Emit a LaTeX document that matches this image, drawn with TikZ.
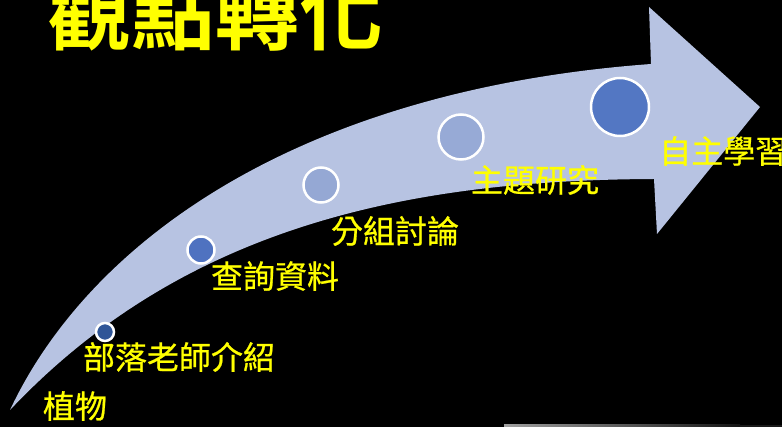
\documentclass[tikz,border=0pt]{standalone}
\usepackage{fontspec}
\newfontfamily\cjk[FakeBold=0.7]{Noto Sans CJK TC}
\newfontfamily\cjkbold{Noto Sans CJK TC Bold}
\definecolor{arrowfill}{HTML}{B7C3E2}
\definecolor{labelyellow}{HTML}{FFFF00}
\definecolor{cA}{HTML}{2F5597}
\definecolor{cB}{HTML}{4F72C0}
\definecolor{cC}{HTML}{95A8D4}
\definecolor{cD}{HTML}{97AAD6}
\definecolor{cE}{HTML}{5377C3}
\begin{document}
\begin{tikzpicture}[x=1pt,y=-1pt,
  dot/.style={circle,draw=white,line width=2.5pt,inner sep=0pt},
  lbl/.style={text=labelyellow,font=\cjk\fontsize{32}{32}\selectfont,inner sep=0pt}]
\fill[black] (0,0) rectangle (782,427);
\useasboundingbox (0,0) rectangle (782,427);
% big curved arrow
\fill[arrowfill] (10,410) .. controls (90,240) and (300,90) .. (651,64)
  -- (649,7) -- (760,107) -- (657,234) -- (654,179)
  .. controls (400,180) and (180,230) .. (10,410) -- cycle;
% bottom strip
\shade[left color=gray!75,right color=black!85!gray] (504,425) rectangle (740,427);
\fill[black!80!gray] (740,425) rectangle (782,427);
% title
\node[anchor=base west,text=labelyellow,inner sep=0pt,font=\cjkbold\fontsize{84}{84}\selectfont] (title) at (47,44) {觀點轉化};
% dots
\node[dot,fill=cA,minimum size=18pt] (d1) at (105,332) {};
\node[dot,fill=cB,minimum size=27pt] (d2) at (201,250) {};
\node[dot,fill=cC,minimum size=35pt] (d3) at (321,185) {};
\node[dot,fill=cD,minimum size=45pt] (d4) at (461,137) {};
\node[dot,fill=cE,minimum size=58pt] (d5) at (620,107) {};
% labels
\node[lbl] (l0) at (75,406) {植物};
\node[lbl] (l1) at (179,357) {部落老師介紹};
\node[lbl] (l2) at (275,276) {查詢資料};
\node[lbl] (l3) at (395,231) {分組討論};
\node[lbl] (l4) at (535,180) {主題研究};
\node[lbl,anchor=west] (l5) at (659,151) {自主學習};
\end{tikzpicture}
\end{document}
